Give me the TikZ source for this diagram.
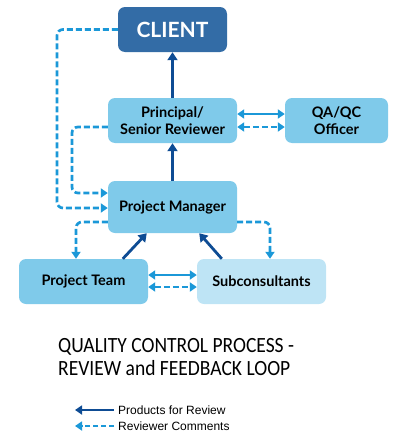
\documentclass[tikz,border=0pt]{standalone}
\usepackage{fontspec}
\setmainfont{Lato}
\newfontfamily\titlefont{Carlito}
\newfontfamily\legendfont{Liberation Sans}
\usetikzlibrary{arrows.meta}
\definecolor{clientblue}{HTML}{336CA6}
\definecolor{boxblue}{HTML}{7FCAEA}
\definecolor{paleblue}{HTML}{BEE4F5}
\definecolor{darkarrow}{HTML}{0E4C94}
\definecolor{lightarrow}{HTML}{1B98D8}
\begin{document}
\begin{tikzpicture}[x=1pt,y=-1pt,
  box/.style={rounded corners=7pt, fill=boxblue, draw=none, align=center,
    font=\bfseries\fontsize{14.5}{17}\selectfont, inner sep=0pt},
  product/.style={draw=darkarrow, line width=2.8pt, -{Triangle[length=8pt,width=10pt]}},
  comment/.style={draw=lightarrow, line width=2.7pt, dash pattern=on 6pt off 3pt,
    rounded corners=6pt, -{Triangle[length=7pt,width=9pt]}},
  commentpair/.style={draw=lightarrow, line width=2.7pt, dash pattern=on 6pt off 3pt,
    {Triangle[length=7pt,width=9pt]}-{Triangle[length=7pt,width=9pt]}},
  solidpair/.style={draw=lightarrow, line width=2.5pt,
    {Triangle[length=7pt,width=9pt]}-{Triangle[length=7pt,width=9pt]}}]
\useasboundingbox (0,0) rectangle (394,434);

% boxes
\node[box, fill=clientblue, text=white, minimum width=109pt, minimum height=45pt,
  font=\bfseries\fontsize{21}{23}\selectfont] (client) at (172.5,29.5) {CLIENT};
\node[box, minimum width=129pt, minimum height=45pt] (principal) at (172.5,120.5) {Principal/\\Senior Reviewer};
\node[box, minimum width=103pt, minimum height=45pt] (qaqc) at (336.5,120.5) {QA/QC\\Officer};
\node[box, minimum width=129pt, minimum height=52pt] (pm) at (172.5,207) {Project Manager};
\node[box, minimum width=129pt, minimum height=45pt] (team) at (83.5,281.5) {Project Team};
\node[box, fill=paleblue, minimum width=129pt, minimum height=45pt] (sub) at (261.5,281.5) {Subconsultants};

% products for review
\draw[product] (principal.north) -- (client.south);
\draw[product] (pm.north) -- (principal.south);
\draw[product] ([xshift=104pt]team.north west) -- ([xshift=39pt]pm.south west);
\draw[product] ([xshift=25pt]sub.north west) -- ([xshift=-38pt]pm.south east);

% exchanges between peers
\draw[solidpair] ([yshift=6.5pt]principal.east) -- ([yshift=6.5pt]principal.east -| qaqc.west);
\draw[commentpair] ([yshift=-6.5pt]principal.east) -- ([yshift=-6.5pt]principal.east -| qaqc.west);
\draw[solidpair] ([yshift=6.5pt]team.east) -- ([yshift=6.5pt]team.east -| sub.west);
\draw[commentpair] ([yshift=-5.5pt]team.east) -- ([yshift=-5.5pt]team.east -| sub.west);

% reviewer comments
\coordinate (c1) at (57,29.5);
\coordinate (c2) at (72,127);
\draw[comment] (client.west |- c1) -- (c1) -- (c1 |- 0,208) -- (pm.west |- 0,208);
\draw[comment] (principal.west |- c2) -- (c2) -- (c2 |- 0,193) -- (pm.west |- 0,193);
\coordinate (c3) at (76,222);
\coordinate (c4) at (270,222);
\draw[comment] (pm.west |- c3) -- (c3) -- (c3 |- team.north);
\draw[comment] (pm.east |- c4) -- (c4) -- (c4 |- sub.north);

% title
\node[font=\titlefont\fontsize{21.7}{23.4}\selectfont, anchor=north west, inner sep=0pt] (title) at (58,336)
  {\scalebox{0.9}[1]{\begin{tabular}{@{}l@{}}QUALITY CONTROL PROCESS -\\REVIEW and FEEDBACK LOOP\end{tabular}}};

% legend
\node[font=\legendfont\fontsize{12}{14}\selectfont, anchor=west, inner sep=0pt] (lprod) at (118,410) {Products for Review};
\node[font=\legendfont\fontsize{12}{14}\selectfont, anchor=west, inner sep=0pt] (lcomm) at (118,426) {Reviewer Comments};
\coordinate (p0) at (75,410);
\coordinate (q0) at (75,426);
\draw[product, line width=2.5pt, -{Triangle[length=7pt,width=9pt]}] ([xshift=-4pt]lprod.west) -- (p0);
\draw[comment, line width=2.5pt, dash pattern=on 5pt off 3pt] ([xshift=-4pt]lcomm.west) -- (q0);
\end{tikzpicture}
\end{document}
